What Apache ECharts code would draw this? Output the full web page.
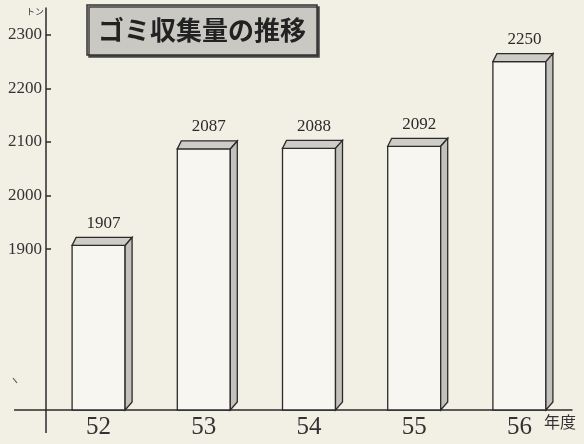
<!DOCTYPE html>
<html>
<head>
<meta charset="utf-8">
<script src="https://cdn.jsdelivr.net/npm/echarts@6/dist/echarts.min.js"></script>
<style>
html,body{margin:0;padding:0;background:#f2efe5;}
#c{width:584px;height:444px;}
</style>
</head>
<body>
<div id="c"></div>
<script>
const categories = ['52', '53', '54', '55', '56'];
const values = [1907, 2087, 2088, 2092, 2250];
const yTicks = [1900, 2000, 2100, 2200, 2300];
const yMin = 1600;
const yMax = 2350;

const serif = '"Liberation Serif", "DejaVu Serif", serif';
const ink = '#2b2b2b';

const chart = echarts.init(document.getElementById('c'), null, {renderer: 'canvas'});

function renderBar(params, api) {
  const idx = api.value(0);
  const v = api.value(1);
  const top = api.coord([idx, v]);
  const base = api.coord([idx, yMin]);
  const w = 53;
  const xl = top[0] - w / 2, xr = top[0] + w / 2;
  const yt = top[1], yb = base[1];
  const dxL = 4, dxR = 7, dy = 8;
  return {
    type: 'group',
    children: [
      {type: 'rect', shape: {x: xl, y: yt, width: w, height: yb - yt},
       style: {fill: '#f8f6f0', stroke: ink, lineWidth: 1.3}},
      {type: 'polygon', shape: {points: [[xl, yt], [xr, yt], [xr + dxR, yt - dy], [xl + dxL, yt - dy]]},
       style: {fill: '#cdccc6', stroke: ink, lineWidth: 1.3}},
      {type: 'polygon', shape: {points: [[xr, yt], [xr + dxR, yt - dy], [xr + dxR, yb - 8], [xr, yb]]},
       style: {fill: '#c2c1bb', stroke: ink, lineWidth: 1.3}},
      {type: 'text', x: top[0] + 5, y: yt - 22,
       style: {text: String(v), fill: ink, font: '17px ' + serif, align: 'center', verticalAlign: 'middle'}}
    ]
  };
}

chart.setOption({
  backgroundColor: '#f2efe5',
  animation: false,
  title: {
    text: 'ゴミ収集量の推移',
    left: 87, top: 5,
    padding: [12, 11, 12, 11],
    backgroundColor: '#c9c8c2',
    borderColor: '#333',
    borderWidth: 1.5,
    shadowColor: '#444',
    shadowBlur: 0,
    shadowOffsetX: 2,
    shadowOffsetY: 2,
    textStyle: {fontFamily: '"Noto Sans CJK JP"', fontWeight: 'bold', fontSize: 26, color: '#222'}
  },
  grid: {left: 46, right: 12, top: 8, bottom: 34, containLabel: false},
  xAxis: {
    type: 'category',
    data: categories,
    axisLine: {show: true, lineStyle: {color: ink, width: 1.5}},
    axisTick: {show: false},
    axisLabel: {fontFamily: serif, fontSize: 25, color: '#333', margin: 5},
    splitLine: {show: false}
  },
  yAxis: {
    type: 'value',
    min: yMin, max: yMax,
    axisLine: {show: true, lineStyle: {color: ink, width: 1.5}},
    axisTick: {show: true, inside: true, length: 5, customValues: yTicks, lineStyle: {color: ink, width: 1.5}},
    axisLabel: {customValues: yTicks, formatter: (v) => String(v), fontFamily: serif, fontSize: 17, color: '#333', margin: 4},
    splitLine: {show: false}
  },
  series: [{
    type: 'custom',
    renderItem: renderBar,
    data: values.map((v, i) => [i, v]),
    encode: {x: 0, y: 1},
    clip: false,
    z: 3
  }]
});

const o = chart.convertToPixel({gridIndex: 0}, [0, yMin]);
const axisX = chart.convertToPixel({xAxisIndex: 0}, 0) - 52.6;
const baseY = o[1];
chart.setOption({
  graphic: [
    {type: 'line', shape: {x1: 14, y1: baseY, x2: axisX, y2: baseY}, style: {stroke: ink, lineWidth: 1.5}},
    {type: 'line', shape: {x1: axisX, y1: baseY, x2: axisX, y2: baseY + 23}, style: {stroke: ink, lineWidth: 1.5}},
    {type: 'line', shape: {x1: 13, y1: 378, x2: 17, y2: 383}, style: {stroke: '#555', lineWidth: 1.2}},
    {type: 'text', left: 544, top: 414, style: {text: '年度', fill: '#333', font: '16px "Noto Sans CJK JP"'}},
    {type: 'text', left: 26, top: 7, style: {text: 'トン', fill: '#333', font: '9px "Noto Sans CJK JP"'}}
  ]
});
</script>
</body>
</html>
